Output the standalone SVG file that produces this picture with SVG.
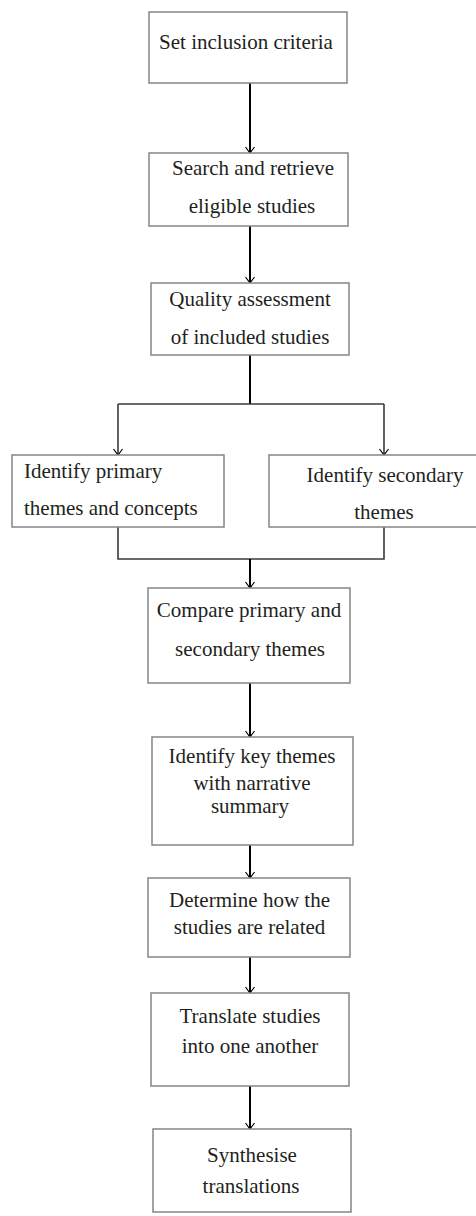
<svg xmlns="http://www.w3.org/2000/svg" width="476" height="1216" viewBox="0 0 476 1216">
<style>
.box{fill:#fff;stroke:#858585;stroke-width:1.5}
.t{font-family:"Liberation Serif","Times New Roman",serif;font-size:21px;fill:#231f20;text-anchor:middle}
.tl{text-anchor:start}
.main{fill:none;stroke:#000;stroke-width:2}
.br{fill:none;stroke:#3a3a3a;stroke-width:1.6}
</style>
<defs>
<marker id="ah" markerUnits="userSpaceOnUse" markerWidth="12" markerHeight="12" viewBox="0 0 12 10" refX="10" refY="5" orient="auto">
<path d="M4,0.5 L10,5 L4,9.5" fill="none" stroke="#000" stroke-width="1.2"/>
</marker>
</defs>
<rect width="476" height="1216" fill="#fff"/>
<g id="connectors">
<line class="main" x1="250" y1="83" x2="250" y2="153" marker-end="url(#ah)"/>
<line class="main" x1="250" y1="226" x2="250" y2="283" marker-end="url(#ah)"/>
<line class="main" x1="250" y1="355" x2="250" y2="404"/>
<line class="br" x1="118" y1="404" x2="384" y2="404"/>
<line class="br" x1="118" y1="404" x2="118" y2="455" marker-end="url(#ah)"/>
<line class="br" x1="384" y1="404" x2="384" y2="455" marker-end="url(#ah)"/>
<polyline class="br" points="118,527 118,559 384,559 384,527"/>
<line class="main" x1="250" y1="559" x2="250" y2="588" marker-end="url(#ah)"/>
<line class="main" x1="250" y1="683" x2="250" y2="737" marker-end="url(#ah)"/>
<line class="main" x1="250" y1="845" x2="250" y2="878" marker-end="url(#ah)"/>
<line class="main" x1="250" y1="957" x2="250" y2="993" marker-end="url(#ah)"/>
<line class="main" x1="250" y1="1086" x2="250" y2="1129" marker-end="url(#ah)"/>
</g>
<g id="n1"><rect class="box" x="149" y="12" width="198" height="71"/><text class="t" x="246" y="49">Set inclusion criteria</text></g>
<g id="n2"><rect class="box" x="149" y="153" width="199" height="73"/><text class="t" x="253" y="175">Search and retrieve</text><text class="t" x="252" y="213">eligible studies</text></g>
<g id="n3"><rect class="box" x="151" y="283" width="198" height="72"/><text class="t" x="250" y="306">Quality assessment</text><text class="t" x="250" y="344">of included studies</text></g>
<g id="n4"><rect class="box" x="12" y="455" width="212" height="72"/><text class="t tl" x="24" y="478">Identify primary</text><text class="t tl" x="24" y="515">themes and concepts</text></g>
<g id="n5"><rect class="box" x="269" y="455" width="210" height="72"/><text class="t" x="385" y="482">Identify secondary</text><text class="t" x="384" y="519">themes</text></g>
<g id="n6"><rect class="box" x="148" y="588" width="202" height="95"/><text class="t" x="249" y="617">Compare primary and</text><text class="t" x="250" y="656">secondary themes</text></g>
<g id="n7"><rect class="box" x="152" y="737" width="201" height="108"/><text class="t" x="252" y="763">Identify key themes</text><text class="t" x="252" y="790">with narrative</text><text class="t" x="250" y="813">summary</text></g>
<g id="n8"><rect class="box" x="148" y="878" width="202" height="79"/><text class="t" x="249.5" y="907">Determine how the</text><text class="t" x="249.5" y="934">studies are related</text></g>
<g id="n9"><rect class="box" x="151" y="993" width="198" height="93"/><text class="t" x="250" y="1023">Translate studies</text><text class="t" x="250" y="1053">into one another</text></g>
<g id="n10"><rect class="box" x="153" y="1129" width="198" height="83"/><text class="t" x="252" y="1162">Synthesise</text><text class="t" x="251" y="1193">translations</text></g>
</svg>
